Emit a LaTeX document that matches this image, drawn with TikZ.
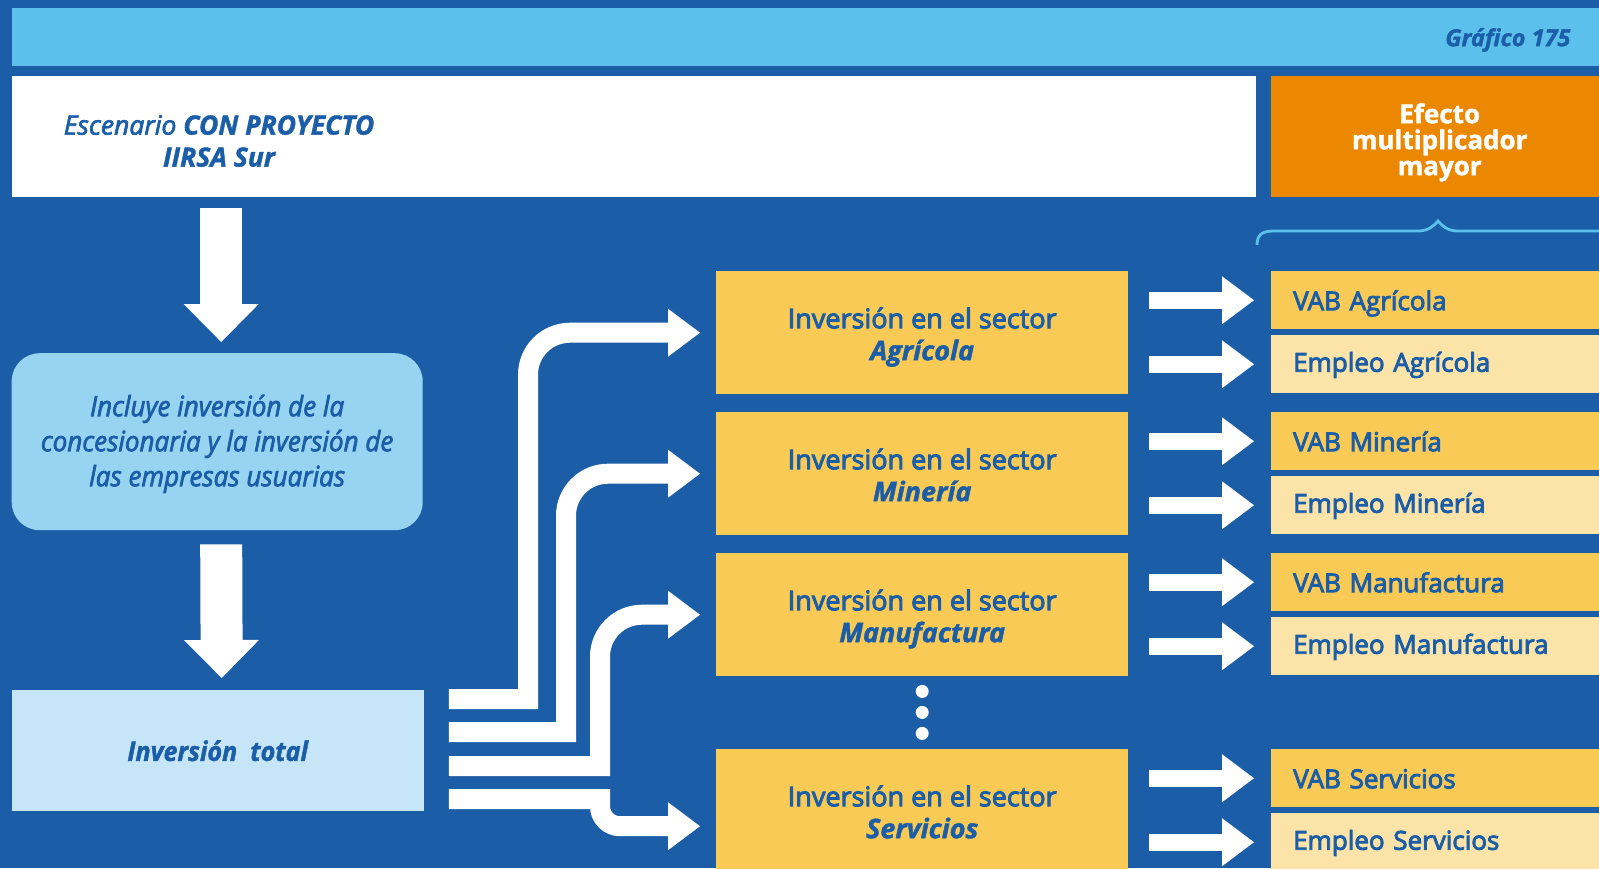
\documentclass[tikz,border=0pt]{standalone}
\usepackage{fontspec}
\setmainfont{Open Sans}[UprightFeatures={FakeBold=3.5}, ItalicFeatures={FakeBold=2.5},
  BoldFeatures={FakeBold=1.5}, BoldItalicFeatures={FakeBold=1.5}]
\newfontfamily\condfont{Open Sans}[FakeStretch=0.93, ItalicFeatures={FakeBold=2.5},
  BoldItalicFeatures={FakeBold=1.5}]
\usepackage{tikz}
\usetikzlibrary{arrows.meta,calc}

\definecolor{fondo}{HTML}{1B5EA7}
\definecolor{banda}{HTML}{5BC0EC}
\definecolor{celeste}{HTML}{97D4F2}
\definecolor{celestebajo}{HTML}{C6E6F7}
\definecolor{amarillo}{HTML}{F9CA55}
\definecolor{crema}{HTML}{FCE4A9}
\definecolor{naranja}{HTML}{EC8700}

\tikzset{
  caja/.style={inner sep=0pt, anchor=north west, text=fondo},
  sector/.style={caja, fill=amarillo, minimum width=412pt, minimum height=123pt,
    align=center, text height=60pt, text depth=5pt, font=\fontsize{27}{32}\selectfont},
  vab/.style={caja, fill=amarillo, minimum width=337pt, minimum height=58pt,
    text width=293pt, inner xsep=22pt, align=left, text height=25pt, text depth=5pt,
    font=\fontsize{26}{30}\selectfont},
  empleo/.style={vab, fill=crema, text depth=10pt},
  flujo/.style={white, line width=20pt, -{Triangle[width=48pt,length=32pt,line width=0pt]}},
  flecha/.style={white, line width=17pt, -{Triangle[width=48pt,length=32pt,line width=0pt]}},
  bajada/.style={white, line width=42pt, -{Triangle[width=75pt,length=38pt,line width=0pt]}},
}

\begin{document}
\begin{tikzpicture}[x=1pt,y=-1pt]
  \useasboundingbox (0,0) rectangle (1599,868);
  \clip (0,0) rectangle (1599,868);
  \fill[fondo] (0,0) rectangle (1599,868);
  % cabecera
  \node[caja, fill=banda, minimum width=1600pt, minimum height=58pt] (banda) at (12,8) {};
  \node[anchor=east, text=fondo, font=\bfseries\itshape\fontsize{23.5}{28}\selectfont]
    (grafico) at (1574,40) {Gráfico 175};
  \node[caja, fill=white, minimum width=1244pt, minimum height=121pt] (escenario) at (12,76) {};
  \node[text=fondo, align=center, font=\itshape\fontsize{26.5}{32}\selectfont]
    (escenariotxt) at (219,141) {Escenario \textbf{CON PROYECTO}\\\textbf{IIRSA Sur}};
  \node[caja, fill=naranja, minimum width=337pt, minimum height=121pt, text=white, align=center,
    text height=80pt, text depth=3pt, font=\bfseries\fontsize{26}{26}\selectfont]
    (efecto) at (1271,76) {Efecto\\multiplicador\\mayor};
  \draw[banda, line width=2.8pt] (1257,245) .. controls (1257,235) and (1262,231) .. (1273,231)
    -- (1418,231) .. controls (1428,231) and (1434,226) .. (1438,221)
    .. controls (1442,226) and (1448,231) .. (1458,231) -- (1610,231);

  % columna izquierda
  \node[caja, fill=celeste, rounded corners=28pt, minimum width=411pt, minimum height=177pt,
    align=center, text height=94pt, text depth=5pt,
    font=\condfont\itshape\fontsize{28}{35}\selectfont] (incluye) at (11.5,353)
    {Incluye inversión de la\\concesionaria y la inversión de\\las empresas usuarias};
  \node[caja, fill=celestebajo, minimum width=412pt, minimum height=121pt,
    font=\condfont\bfseries\itshape\fontsize{27}{32}\selectfont] (total) at (11.5,690)
    {Inversión\ \ total};
  \draw[bajada] ($(escenario.south -| incluye.north)+(4,11)$) -- ($(incluye.north)+(4,-11)$);
  \draw[bajada] ($(incluye.south)+(4,14)$) -- ($(total.north)+(4,-12)$);

  % sectores
  \node[sector] (agricola) at (716,271) {Inversión en el sector\\\textbf{\textit{Agrícola}}};
  \node[sector] (mineria) at (716,412) {Inversión en el sector\\\textbf{\textit{Minería}}};
  \node[sector] (manufactura) at (716,553) {Inversión en el sector\\\textbf{\textit{Manufactura}}};
  \node[sector] (servicios) at (716,749) {Inversión en el sector\\\textbf{\textit{Servicios}}};
  \foreach \d in {15,36,57}
    \fill[white] ($(manufactura.south)+(0,\d)$) circle (6.5pt);

  \coordinate (s1) at ($(total.east)+(25,-51.5)$);
  \coordinate (s2) at ($(total.east)+(25,-18.5)$);
  \coordinate (s3) at ($(total.east)+(25,15.5)$);
  \coordinate (s4) at ($(total.east)+(25,48.5)$);
  \coordinate (k1) at ($(agricola.west)+(-188,0)$);
  \coordinate (k2) at ($(mineria.west)+(-150,0)$);
  \coordinate (k3) at ($(manufactura.west)+(-116,0)$);
  \coordinate (k4) at ($(servicios.west)+(-116,15.5)$);
  \draw[flujo] (s1) -- (s1 -| k1) [rounded corners=42pt] -- (k1) -- ([xshift=-16pt]agricola.west);
  \draw[flujo] (s2) -- (s2 -| k2) [rounded corners=42pt] -- (k2) -- ([xshift=-16pt]mineria.west);
  \draw[flujo] (s3) -- (s3 -| k3) [rounded corners=42pt] -- (k3) -- ([xshift=-16pt]manufactura.west);
  \draw[flujo] (s4) -- (s4 -| k4) [rounded corners=20pt] -- (k4) -- ($(servicios.west)+(-16,15.5)$);

  % efectos
  \node[vab] (vabagr) at (1271,271) {VAB Agrícola};
  \node[empleo] (empagr) at (1271,335) {Empleo Agrícola};
  \node[vab] (vabmin) at (1271,412) {VAB Minería};
  \node[empleo] (empmin) at (1271,476) {Empleo Minería};
  \node[vab] (vabman) at (1271,553) {VAB Manufactura};
  \node[empleo] (empman) at (1271,617) {Empleo Manufactura};
  \node[vab] (vabser) at (1271,749) {VAB Servicios};
  \node[empleo] (empser) at (1271,813) {Empleo Servicios};
  \foreach \s/\e in {agricola/vabagr, agricola/empagr, mineria/vabmin, mineria/empmin,
      manufactura/vabman, manufactura/empman, servicios/vabser, servicios/empser}
    \draw[flecha] ($(\s.east |- \e.west)+(21,0)$) -- ($(\e.west)+(-17,0)$);
\end{tikzpicture}
\end{document}
